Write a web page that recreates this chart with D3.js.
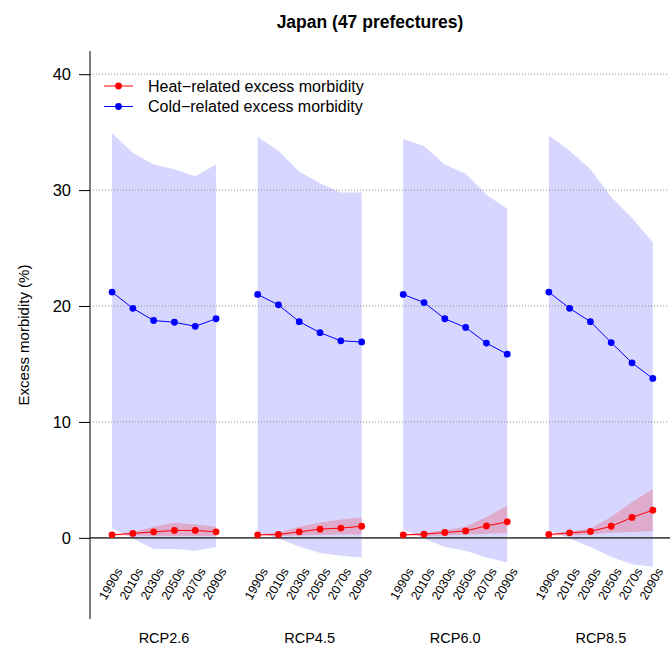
<!DOCTYPE html>
<html>
<head>
<meta charset="utf-8">
<script src="https://cdn.jsdelivr.net/npm/d3@7"></script>
<style>
  html, body { margin: 0; padding: 0; background: #fff; }
  svg { display: block; font-family: "Liberation Sans", Arial, sans-serif; }
</style>
</head>
<body>
<svg id="chart" width="670" height="647"></svg>
<script>
// Scenario groups and decades along the x axis
const scenarios = ["RCP2.6", "RCP4.5", "RCP6.0", "RCP8.5"];
const decades = ["1990s", "2010s", "2030s", "2050s", "2070s", "2090s"];
const yTicks = [0, 10, 20, 30, 40];

// Cold-related excess morbidity (%): central estimate and interval bounds
const coldMean = [
  [21.2, 19.8, 18.75, 18.6, 18.25, 18.9],
  [21.0, 20.1, 18.65, 17.7, 17.0, 16.9],
  [21.0, 20.3, 18.9, 18.15, 16.8, 15.85],
  [21.2, 19.8, 18.65, 16.85, 15.1, 13.75]
];
const coldLow = [
  [0.86, -0.05, -0.97, -0.97, -1.12, -0.78],
  [0.46, -0.05, -0.75, -1.3, -1.55, -1.7],
  [0.72, -0.05, -0.78, -1.12, -1.69, -2.12],
  [0.66, -0.05, -0.78, -1.64, -2.27, -2.5]
];
const coldHigh = [
  [34.9, 33.2, 32.2, 31.8, 31.2, 32.2],
  [34.6, 33.4, 31.6, 30.6, 29.8, 29.8],
  [34.4, 33.8, 32.2, 31.4, 29.6, 28.4],
  [34.7, 33.4, 31.8, 29.4, 27.6, 25.5]
];

// Heat-related excess morbidity (%): central estimate and interval bounds
const heatMean = [
  [0.26, 0.38, 0.52, 0.64, 0.64, 0.52],
  [0.26, 0.29, 0.52, 0.75, 0.84, 1.0],
  [0.26, 0.32, 0.46, 0.6, 1.03, 1.38],
  [0.29, 0.43, 0.55, 1.0, 1.76, 2.39]
];
const heatLow = [
  [0.2, 0.2, 0.15, 0.15, 0.15, 0.15],
  [0.2, 0.15, 0.2, 0.25, 0.3, 0.3],
  [0.2, 0.15, 0.2, 0.3, 0.35, 0.4],
  [0.2, 0.2, 0.3, 0.43, 0.5, 0.6]
];
const heatHigh = [
  [0.3, 0.5, 0.95, 1.33, 1.15, 0.95],
  [0.3, 0.46, 0.95, 1.33, 1.59, 1.76],
  [0.3, 0.46, 0.66, 0.95, 1.81, 2.76],
  [0.33, 0.55, 0.81, 1.81, 3.1, 4.2]
];

const svg = d3.select("#chart");
const plot = { left: 90, right: 668, top: 51, bottom: 619 };

// Each scenario takes six slots followed by one empty slot
const slot = (g, i) => g * (decades.length + 1) + i + 1;
const x = d3.scaleLinear().domain([-0.06, 27.73]).range([plot.left, plot.right]);
const y = d3.scaleLinear().domain([-7.0, 42.0]).range([plot.bottom, plot.top]);

const series = (mean, low, high) => scenarios.map((s, g) =>
  decades.map((d, i) => ({ g, i, x: slot(g, i), m: mean[g][i], lo: low[g][i], hi: high[g][i] })));

const cold = series(coldMean, coldLow, coldHigh);
const heat = series(heatMean, heatLow, heatHigh);

const area = d3.area().x(d => x(d.x)).y0(d => y(d.lo)).y1(d => y(d.hi));
const line = d3.line().x(d => x(d.x)).y(d => y(d.m));

// Uncertainty bands
svg.append("g").selectAll("path").data(cold).join("path")
  .attr("d", area).attr("fill", "rgb(0,0,255)").attr("fill-opacity", 0.16);
svg.append("g").selectAll("path").data(heat).join("path")
  .attr("d", area).attr("fill", "rgb(255,0,0)").attr("fill-opacity", 0.2);

// Dotted reference lines and the zero line
svg.append("g").selectAll("line").data(yTicks.filter(t => t !== 0)).join("line")
  .attr("x1", plot.left).attr("x2", plot.right)
  .attr("y1", d => y(d)).attr("y2", d => y(d))
  .attr("stroke", "#8a8a8a").attr("stroke-width", 1).attr("stroke-dasharray", "1,2");
svg.append("line")
  .attr("x1", plot.left).attr("x2", 670)
  .attr("y1", y(0)).attr("y2", y(0))
  .attr("stroke", "#4d4d4d").attr("stroke-width", 1.6);

// Central estimate lines with point markers
function drawSeries(data, color) {
  const g = svg.append("g");
  g.selectAll("path").data(data).join("path")
    .attr("d", line).attr("fill", "none").attr("stroke", color).attr("stroke-width", 1);
  g.selectAll("circle").data(data.flat()).join("circle")
    .attr("cx", d => x(d.x)).attr("cy", d => y(d.m)).attr("r", 3.4).attr("fill", color);
}
drawSeries(heat, "#ff0000");
drawSeries(cold, "#0000ff");

// Y axis
const yAxis = d3.axisLeft(y).tickValues(yTicks).tickSize(11).tickPadding(8).tickFormat(d3.format("d"));
const ya = svg.append("g").attr("transform", `translate(${plot.left},0)`).call(yAxis);
ya.select(".domain").attr("d", `M0,${plot.top}V${plot.bottom}`).attr("stroke", "#000");
ya.selectAll(".tick line").attr("stroke", "#000");
ya.selectAll(".tick text").attr("font-size", 16.5).attr("fill", "#000")
  .attr("font-family", "Liberation Sans, Arial, sans-serif");

svg.append("text")
  .attr("transform", `translate(29,${(plot.top + plot.bottom) / 2}) rotate(-90)`)
  .attr("text-anchor", "middle").attr("font-size", 15).text("Excess morbidity (%)");

// Decade labels, rotated
svg.append("g").selectAll("text").data(cold.flat()).join("text")
  .attr("transform", d => `translate(${x(d.x) + 7},${569}) rotate(-60)`)
  .attr("text-anchor", "end").attr("dy", "0.35em").attr("font-size", 12.5)
  .text(d => decades[d.i]);

// Scenario labels
svg.append("g").selectAll("text").data(scenarios).join("text")
  .attr("x", (d, g) => (x(slot(g, 0)) + x(slot(g, decades.length - 1))) / 2)
  .attr("y", 643).attr("text-anchor", "middle").attr("font-size", 14.5)
  .text(d => d);

// Title
svg.append("text").attr("x", 370).attr("y", 28).attr("text-anchor", "middle")
  .attr("font-size", 17.5).attr("font-weight", "bold").text("Japan (47 prefectures)");

// Legend
const legendItems = [
  { label: "Heat\u2212related excess morbidity", color: "#ff0000" },
  { label: "Cold\u2212related excess morbidity", color: "#0000ff" }
];
const lg = svg.append("g").selectAll("g").data(legendItems).join("g")
  .attr("transform", (d, k) => `translate(104,${86 + k * 20.5})`);
lg.append("line").attr("x1", 0).attr("x2", 29).attr("stroke", d => d.color).attr("stroke-width", 1);
lg.append("circle").attr("cx", 14.5).attr("r", 3.4).attr("fill", d => d.color);
lg.append("text").attr("x", 44).attr("dy", "0.35em").attr("font-size", 16).text(d => d.label);
</script>
</body>
</html>
